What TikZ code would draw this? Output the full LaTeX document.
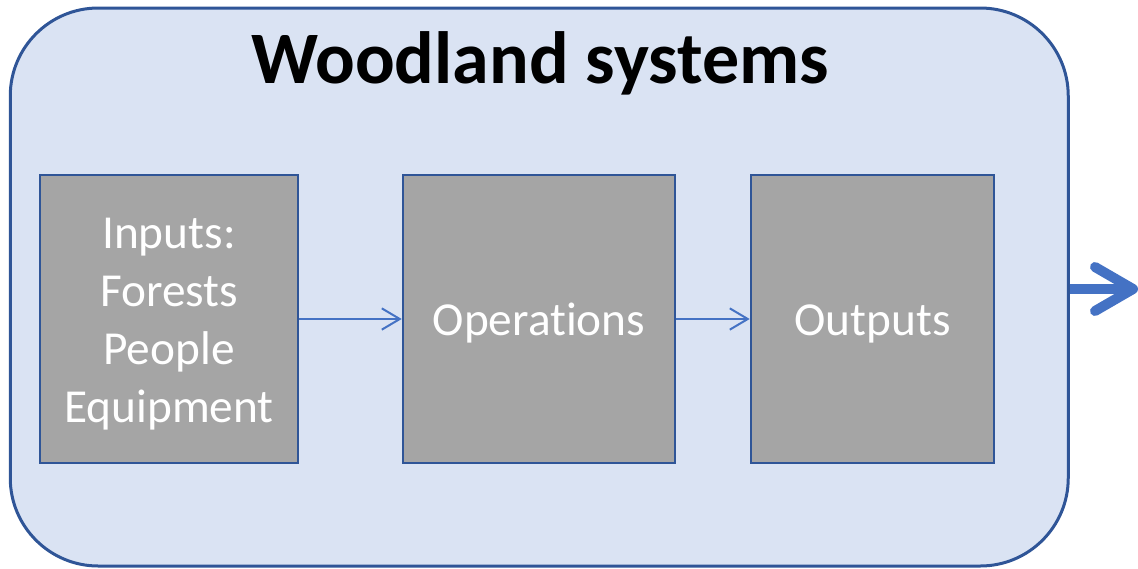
\documentclass[tikz,border=0pt]{standalone}
\usepackage{fontspec}
\setmainfont{Carlito}[Ligatures=NoCommon]
\usetikzlibrary{arrows.meta}
\definecolor{panelfill}{HTML}{DAE3F3}
\definecolor{panelline}{HTML}{2F5597}
\definecolor{boxfill}{HTML}{A5A5A5}
\definecolor{flowblue}{HTML}{4472C4}
% centred lines of a stage label, set slightly below the box centre
\newcommand\stagetext[1]{\raisebox{-4pt}[\height][\depth]{%
  \setlength\tabcolsep{0pt}\begin{tabular}{c}#1\end{tabular}}}
\begin{document}
\begin{tikzpicture}[x=0.75pt,y=-0.75pt,
  panel/.style={draw=panelline, fill=panelfill, line width=2.25pt,
    rounded corners=66pt, minimum width=793.5pt, minimum height=418.5pt,
    inner sep=0pt},
  stagebox/.style={draw=panelline, fill=boxfill, line width=1.9pt,
    minimum height=216pt, inner sep=0pt, text=white,
    font=\fontsize{35.5pt}{43.5pt}\selectfont},
  flow/.style={draw=flowblue, line width=1.5pt,
    -{Straight Barb[length=13.5pt,width=16pt]}},
  bigflow/.style={draw=flowblue, line width=7.5pt,
    -{Straight Barb[length=28.5pt,width=33pt,round]}}]
\useasboundingbox (0,0) rectangle (1138,568);

\node[panel] (outer) at (539.25,287) {};
\node[anchor=base, font=\bfseries\fontsize{55.5pt}{60pt}\selectfont] (title) at (540,83) {Woodland systems};

\node[stagebox, minimum width=193.5pt] (inputs) at (169,319) {\stagetext{Inputs:\\Forests\\People\\Equipment}};
\node[stagebox, minimum width=204pt] (ops) at (539,319) {\stagetext{Operations}};
\node[stagebox, minimum width=182.25pt] (outs) at (872.5,319) {\stagetext{Outputs}};

\draw[flow] (inputs) -- (ops);
\draw[flow] (ops) -- (outs);

\coordinate (tip) at (1138,289);
\draw[bigflow] (outer.east |- tip) -- (tip);
\end{tikzpicture}
\end{document}
